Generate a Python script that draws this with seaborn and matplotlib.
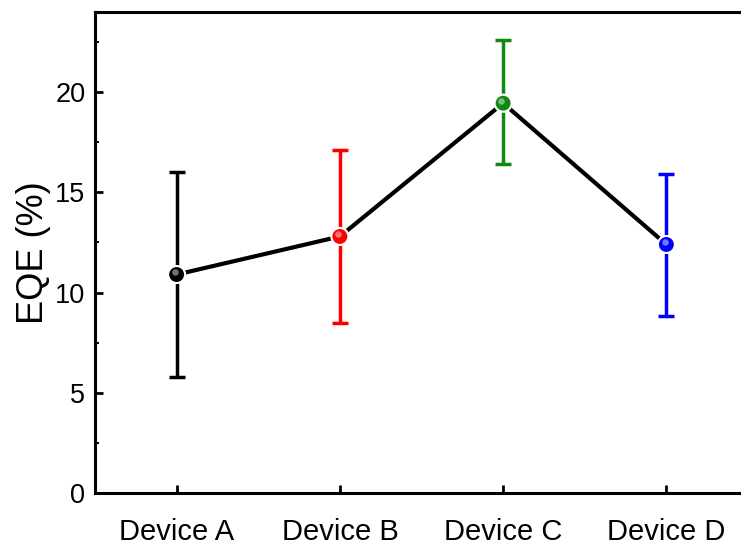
import numpy as np
import pandas as pd
import matplotlib
matplotlib.use("Agg")
import matplotlib.pyplot as plt
import seaborn as sns
from matplotlib.ticker import MultipleLocator

devices = ["Device A", "Device B", "Device C", "Device D"]
eqe = [10.9, 12.8, 19.45, 12.4]
eqe_low = [5.8, 8.5, 16.4, 8.85]
eqe_high = [16.0, 17.1, 22.6, 15.9]
colors = ["#000000", "#ff0000", "#118811", "#0000ff"]

df = pd.DataFrame({"device": devices, "eqe": eqe, "low": eqe_low, "high": eqe_high})
df["pos"] = np.arange(1, len(devices) + 1)

sns.set_style("ticks")
plt.rcParams["font.family"] = ["Liberation Sans", "DejaVu Sans"]
plt.rcParams["text.color"] = "black"
plt.rcParams["xtick.color"] = "black"
plt.rcParams["ytick.color"] = "black"
plt.rcParams["axes.labelcolor"] = "black"

fig = plt.figure(figsize=(7.41, 5.45), dpi=100)
# axes right edge runs off the figure as in the reference
ax = fig.add_axes([95 / 741, 52 / 545, 653 / 741, 481 / 545])

sns.lineplot(data=df, x="pos", y="eqe", color="black", lw=3, ax=ax, zorder=2)

for i, row in df.iterrows():
    ax.errorbar(row["pos"], row["eqe"],
                yerr=[[row["eqe"] - row["low"]], [row["high"] - row["eqe"]]],
                fmt="none", ecolor=colors[i], elinewidth=2.5, capsize=6,
                capthick=2.5, zorder=3)

sns.scatterplot(data=df, x="pos", y="eqe", hue="device", palette=colors,
                s=150, edgecolor="white", linewidth=1.5, legend=False,
                ax=ax, zorder=4)
# light highlight for the glossy look
ax.scatter(df["pos"] - 0.01, df["eqe"] + 0.12, s=22, color="white",
           alpha=0.45, zorder=5, linewidths=0)

ax.set_xlim(0.5, 4.5)
ax.set_ylim(0, 24)
ax.set_xticks(df["pos"])
ax.set_xticklabels(devices)
ax.yaxis.set_major_locator(MultipleLocator(5))
ax.yaxis.set_minor_locator(MultipleLocator(2.5))
ax.tick_params(axis="both", which="major", direction="in", length=6, width=2)
ax.tick_params(axis="y", which="major", labelsize=19.5, pad=7)
ax.tick_params(axis="y", which="minor", direction="in", length=3, width=1.5)
ax.tick_params(axis="x", which="major", labelsize=21, pad=18)
ax.set_xlabel("")
ax.set_ylabel("EQE (%)", fontsize=26, labelpad=3)

for side in ["left", "bottom", "top"]:
    ax.spines[side].set_linewidth(2.2)
    ax.spines[side].set_color("black")
ax.spines["right"].set_visible(False)

fig.savefig("out.png", dpi=100)
